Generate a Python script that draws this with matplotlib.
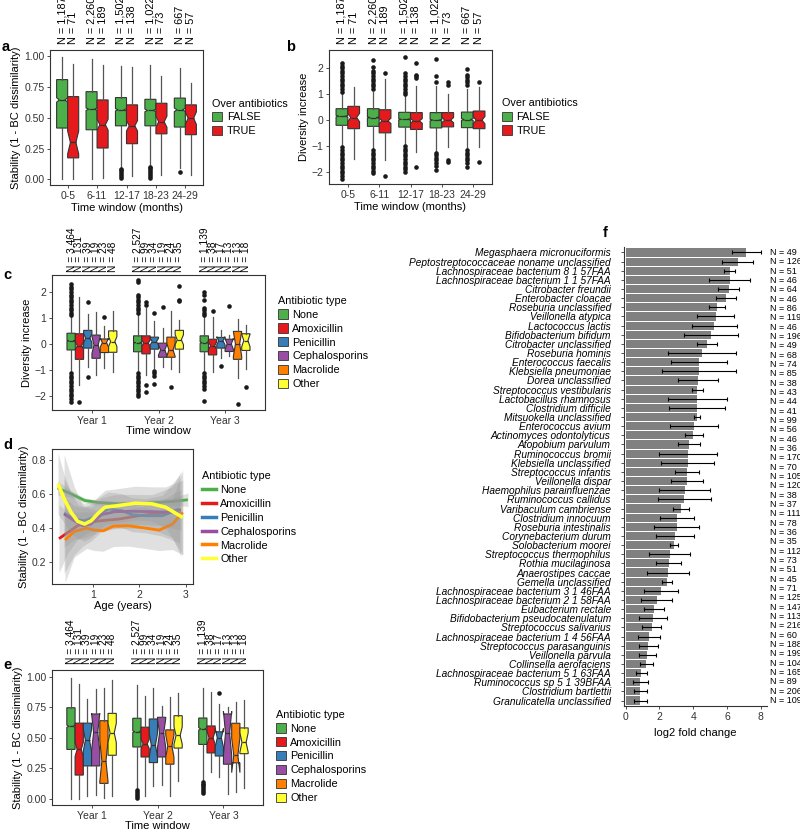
import numpy as np
import matplotlib
matplotlib.use("Agg")
import matplotlib.pyplot as plt
import matplotlib.transforms as mtrans
from matplotlib.patches import Patch
from matplotlib.lines import Line2D

plt.rcParams['font.family'] = ['Liberation Sans', 'DejaVu Sans']
plt.rcParams['font.size'] = 7

GREY = '#333333'
abx_types = ['None', 'Amoxicillin', 'Penicillin', 'Cephalosporins', 'Macrolide', 'Other']
abx_colors = ['#4DAF4A', '#E41A1C', '#377EB8', '#984EA3', '#FF7F00', '#FFFF33']
tf_labels = ['FALSE', 'TRUE']

# ---- panels a / b : over antibiotics per time window ----
windows = ['0-5', '6-11', '12-17', '18-23', '24-29']
n_false = [1187, 2260, 1502, 1022, 667]
n_true = [71, 189, 138, 73, 57]

# (whislo, q1, med, q3, whishi)
a_false = [(0.00, 0.417, 0.645, 0.810, 0.990),
           (0.00, 0.403, 0.570, 0.712, 0.973),
           (0.105, 0.435, 0.565, 0.664, 0.922),
           (0.115, 0.435, 0.560, 0.650, 0.927),
           (0.094, 0.425, 0.565, 0.660, 0.900)]
a_true = [(0.00, 0.175, 0.300, 0.672, 0.940),
          (0.008, 0.255, 0.444, 0.645, 0.927),
          (0.027, 0.290, 0.435, 0.605, 0.914),
          (0.040, 0.370, 0.468, 0.618, 0.840),
          (0.040, 0.363, 0.497, 0.605, 0.785)]
a_false_fliers = [[], [], [0.013, 0.03, 0.045, 0.06, 0.075, 0.086],
                  [0.013, 0.03, 0.045, 0.06, 0.075, 0.09, 0.105], [0.062]]
a_true_fliers = [[], [], [], [], []]

b_false = [(-1.00, -0.20, 0.15, 0.44, 1.05),
           (-1.10, -0.24, 0.10, 0.44, 1.10),
           (-0.95, -0.27, 0.03, 0.30, 0.95),
           (-1.20, -0.30, 0.00, 0.29, 1.30),
           (-1.10, -0.29, 0.02, 0.31, 1.20)]
b_true = [(-1.51, -0.33, 0.10, 0.53, 1.27),
          (-1.54, -0.49, -0.03, 0.40, 1.60),
          (-1.22, -0.36, -0.03, 0.29, 1.30),
          (-1.05, -0.26, 0.00, 0.29, 1.00),
          (-1.05, -0.33, 0.00, 0.35, 1.27)]
b_false_fliers = [
    [1.1, 1.2, 1.3, 1.4, 1.5, 1.6, 1.7, 1.8, 1.9, 2.0, 2.1, 2.2,
     -1.05, -1.15, -1.25, -1.35, -1.45, -1.55, -1.65, -1.75, -1.85, -1.95, -2.05, -2.15, -2.25],
    [1.2, 1.3, 1.4, 1.5, 1.6, 1.7, 1.8, 1.9, 2.05, 2.3,
     -1.15, -1.25, -1.35, -1.45, -1.55, -1.65, -1.75, -1.85, -1.95, -2.05],
    [1.0, 1.1, 1.2, 1.3, 1.4, 1.5, 1.6, 1.7, 1.8, 2.42,
     -1.0, -1.1, -1.2, -1.3, -1.4, -1.5, -1.6, -1.7, -1.8, -1.9, -2.0],
    [1.45, 1.68, 2.35, -1.25, -1.35, -1.45, -1.55, -1.65, -1.75, -1.93],
    [1.35, 1.45, 1.55, 1.65, 1.75, 1.95, -1.15, -1.25, -1.35, -1.45, -1.55, -1.65, -1.82]]
b_true_fliers = [[], [1.82, -2.17], [2.2, 1.75, 1.68, 1.62, -1.8],
                 [1.45, 1.35, -1.55, -1.62], [1.45, -1.63]]

# ---- panels c / e : antibiotic type per year ----
years = ['Year 1', 'Year 2', 'Year 3']
n_type = [[3464, 131, 39, 19, 23, 48],
          [2527, 99, 34, 19, 24, 35],
          [1139, 38, 17, 13, 13, 18]]

c_stats = [
    [(-1.05, -0.22, 0.13, 0.42, 1.05), (-1.56, -0.58, -0.06, 0.40, 1.81),
     (-0.88, -0.15, 0.23, 0.53, 1.17), (-1.18, -0.54, -0.03, 0.35, 1.22),
     (-0.92, -0.32, 0.06, 0.20, 0.71), (-1.05, -0.31, 0.10, 0.51, 1.26)],
    [(-1.05, -0.29, 0.06, 0.32, 1.15), (-1.18, -0.37, 0.04, 0.32, 1.40),
     (-0.92, -0.19, 0.10, 0.27, 0.87), (-0.86, -0.50, -0.22, 0.04, 0.62),
     (-0.96, -0.50, -0.22, 0.27, 1.26), (-1.05, -0.19, 0.17, 0.53, 0.91)],
    [(-1.05, -0.29, 0.06, 0.32, 1.05), (-1.05, -0.41, -0.06, 0.19, 1.06),
     (-0.54, -0.15, 0.13, 0.26, 0.55), (-0.47, -0.28, 0.01, 0.19, 0.36),
     (-1.31, -0.58, 0.01, 0.49, 0.96), (-0.96, -0.24, 0.14, 0.40, 0.74)]]
c_fliers = [
    [[1.1, 1.2, 1.3, 1.4, 1.5, 1.6, 1.7, 1.8, 1.9, 2.0, 2.1, 2.2, 2.3,
      -1.1, -1.2, -1.3, -1.4, -1.5, -1.6, -1.7, -1.8, -1.9, -2.0, -2.1, -2.2],
     [-2.2], [1.62, -1.24], [], [1.06], []],
    [[1.2, 1.3, 1.4, 1.5, 1.6, 1.7, 1.8, 1.9, 2.38, 2.47,
      -1.1, -1.2, -1.3, -1.4, -1.5, -1.6, -1.7, -1.8, -1.9, -2.0],
     [1.6, 1.5, -1.56, -1.82], [1.19, -1.02, -1.12, -1.22, -1.53], [1.42], [-1.65],
     [2.22, 1.7, 1.64]],
    [[1.1, 1.2, 1.3, 1.4, 1.68, 1.9, 1.99,
      -1.1, -1.2, -1.3, -1.4, -1.5, -1.6, -1.7, -2.17],
     [1.26], [-0.82], [1.47], [-2.29], [-1.65]]]

e_stats = [
    [(0.00, 0.405, 0.595, 0.746, 0.990), (0.00, 0.195, 0.405, 0.620, 0.940),
     (0.02, 0.270, 0.480, 0.620, 0.820), (0.03, 0.270, 0.545, 0.695, 0.900),
     (0.005, 0.127, 0.310, 0.640, 0.905), (0.02, 0.357, 0.540, 0.700, 0.970)],
    [(0.075, 0.425, 0.550, 0.660, 0.930), (0.02, 0.343, 0.450, 0.587, 0.840),
     (0.108, 0.297, 0.440, 0.654, 0.910), (0.114, 0.343, 0.538, 0.668, 0.757),
     (0.02, 0.284, 0.432, 0.565, 0.830), (0.146, 0.416, 0.519, 0.681, 0.865)],
    [(0.15, 0.446, 0.573, 0.662, 0.905), (0.222, 0.376, 0.500, 0.597, 0.878),
     (0.176, 0.351, 0.500, 0.549, 0.780), (0.04, 0.284, 0.538, 0.695, 0.749),
     (0.06, 0.295, 0.357, 0.619, 0.797), (0.086, 0.370, 0.462, 0.581, 0.808)]]
e_fliers = [
    [[], [], [], [], [], []],
    [[0.01, 0.025, 0.04, 0.055, 0.07], [], [], [], [], []],
    [[0.05, 0.065, 0.08, 0.095, 0.11, 0.125, 0.14], [], [0.87], [], [], []]]

# ---- panel d : smoothed stability vs age ----
d_x = [[0.24, 0.53, 0.82, 1.11, 1.55, 2.13, 2.71, 3.04],
       [0.27, 0.46, 0.67, 0.89, 1.18, 1.55, 1.98, 2.42, 2.89],
       [0.38, 0.60, 0.82, 1.04, 1.33, 1.62, 1.84, 2.13, 2.49, 2.86],
       [0.38, 0.60, 0.78, 0.96, 1.18, 1.47, 1.84, 2.27, 2.71, 2.89],
       [0.40, 0.60, 0.86, 1.04, 1.22, 1.44, 1.76, 2.13, 2.42, 2.71, 2.93],
       [0.25, 0.38, 0.53, 0.67, 0.82, 0.96, 1.11, 1.26, 1.55, 1.91, 2.27, 2.56, 2.93]]
d_y = [[0.635, 0.601, 0.562, 0.550, 0.542, 0.546, 0.556, 0.566],
       [0.337, 0.373, 0.413, 0.433, 0.443, 0.452, 0.472, 0.486, 0.506],
       [0.486, 0.452, 0.442, 0.466, 0.512, 0.502, 0.478, 0.472, 0.472, 0.512],
       [0.482, 0.442, 0.413, 0.423, 0.478, 0.496, 0.498, 0.496, 0.492, 0.482],
       [0.329, 0.379, 0.399, 0.387, 0.383, 0.411, 0.413, 0.399, 0.387, 0.423, 0.492],
       [0.661, 0.572, 0.492, 0.439, 0.423, 0.442, 0.486, 0.522, 0.532, 0.546, 0.542, 0.522, 0.462]]
d_se = [[0.04, 0.02, 0.015, 0.015, 0.015, 0.015, 0.02, 0.04],
        [0.20, 0.12, 0.08, 0.06, 0.05, 0.05, 0.05, 0.07, 0.12],
        [0.20, 0.12, 0.10, 0.10, 0.10, 0.10, 0.10, 0.10, 0.12, 0.20],
        [0.35, 0.20, 0.12, 0.10, 0.10, 0.10, 0.10, 0.10, 0.15, 0.25],
        [0.25, 0.15, 0.12, 0.12, 0.12, 0.12, 0.12, 0.12, 0.12, 0.15, 0.25],
        [0.18, 0.14, 0.12, 0.10, 0.10, 0.10, 0.10, 0.10, 0.10, 0.10, 0.10, 0.12, 0.22]]

# ---- panel f : log2 fold change per species ----
species = ['Megasphaera micronuciformis', 'Peptostreptococcaceae noname unclassified',
           'Lachnospiraceae bacterium 8 1 57FAA', 'Lachnospiraceae bacterium 1 1 57FAA',
           'Citrobacter freundii', 'Enterobacter cloacae', 'Roseburia unclassified',
           'Veillonella atypica', 'Lactococcus lactis', 'Bifidobacterium bifidum',
           'Citrobacter unclassified', 'Roseburia hominis', 'Enterococcus faecalis',
           'Klebsiella pneumoniae', 'Dorea unclassified', 'Streptococcus vestibularis',
           'Lactobacillus rhamnosus', 'Clostridium difficile', 'Mitsuokella unclassified',
           'Enterococcus avium', 'Actinomyces odontolyticus', 'Atopobium parvulum',
           'Ruminococcus bromii', 'Klebsiella unclassified', 'Streptococcus infantis',
           'Veillonella dispar', 'Haemophilus parainfluenzae', 'Ruminococcus callidus',
           'Varibaculum cambriense', 'Clostridium innocuum', 'Roseburia intestinalis',
           'Corynebacterium durum', 'Solobacterium moorei', 'Streptococcus thermophilus',
           'Rothia mucilaginosa', 'Anaerostipes caccae', 'Gemella unclassified',
           'Lachnospiraceae bacterium 3 1 46FAA', 'Lachnospiraceae bacterium 2 1 58FAA',
           'Eubacterium rectale', 'Bifidobacterium pseudocatenulatum', 'Streptococcus salivarius',
           'Lachnospiraceae bacterium 1 4 56FAA', 'Streptococcus parasanguinis',
           'Veillonella parvula', 'Collinsella aerofaciens', 'Lachnospiraceae bacterium 5 1 63FAA',
           'Ruminococcus sp 5 1 39BFAA', 'Clostridium bartlettii', 'Granulicatella unclassified']
fold = [7.13, 6.64, 6.15, 6.15, 6.09, 5.95, 5.42, 5.32, 5.24, 5.04,
        4.82, 4.51, 4.35, 4.35, 4.29, 4.25, 4.25, 4.25, 4.21, 4.05,
        4.01, 3.75, 3.70, 3.70, 3.64, 3.62, 3.50, 3.46, 3.26, 3.04,
        3.04, 2.92, 2.85, 2.61, 2.55, 2.49, 2.43, 2.09, 1.84, 1.68,
        1.60, 1.54, 1.40, 1.34, 1.28, 1.21, 0.93, 0.87, 0.85, 0.85]
fold_lo = [6.32, 5.69, 5.83, 4.94, 5.49, 5.36, 4.94, 4.23, 3.95, 3.44,
           4.23, 2.49, 2.71, 2.15, 3.12, 3.95, 2.49, 2.55, 4.07, 2.65,
           3.52, 3.08, 1.98, 2.11, 2.92, 2.69, 2.00, 1.90, 2.79, 2.04,
           1.70, 1.82, 2.61, 1.40, 1.82, 1.25, 2.13, 1.11, 0.93, 1.11,
           0.79, 0.99, 0.73, 0.81, 0.81, 0.83, 0.61, 0.45, 0.47, 0.49]
fold_hi = [8.00, 7.57, 6.48, 7.37, 6.70, 6.52, 5.91, 6.40, 6.58, 6.68,
           5.40, 6.56, 6.03, 6.56, 5.49, 4.60, 6.03, 5.91, 4.43, 5.47,
           4.57, 4.43, 5.40, 5.24, 4.37, 4.57, 5.02, 5.04, 3.75, 4.07,
           4.37, 4.05, 3.08, 3.81, 3.30, 3.77, 2.73, 3.08, 2.73, 2.25,
           2.45, 2.11, 2.06, 1.90, 1.78, 1.64, 1.25, 1.32, 1.25, 1.25]
f_n = [49, 126, 51, 46, 64, 46, 86, 119, 46, 196, 49, 68, 74, 85, 38, 43, 44, 41,
       99, 56, 46, 36, 170, 70, 105, 120, 38, 37, 111, 78, 36, 35, 112, 73, 51, 45,
       71, 125, 147, 113, 216, 60, 188, 199, 104, 165, 89, 206, 109]

LAB = 8
TICK = 7.5


def make_stats(rows, ns, fliers):
    out = []
    for (lo, q1, med, q3, hi), n, fl in zip(rows, ns, fliers):
        ci = 1.58 * (q3 - q1) / np.sqrt(n)
        out.append(dict(whislo=lo, q1=q1, med=med, q3=q3, whishi=hi,
                        cilo=med - ci, cihi=med + ci, fliers=fl))
    return out


def draw_boxes(ax, stats, positions, width, colors):
    bp = ax.bxp(stats, positions=positions, widths=width, patch_artist=True,
                shownotches=True, showcaps=False, manage_ticks=False,
                boxprops=dict(edgecolor=GREY, linewidth=0.8),
                whiskerprops=dict(color='#555555', linewidth=0.9),
                medianprops=dict(color=GREY, linewidth=0.9),
                flierprops=dict(marker='o', markersize=3.3, markerfacecolor='#1a1a1a',
                                markeredgecolor='none'))
    for patch, c in zip(bp['boxes'], colors):
        patch.set_facecolor(c)


def n_labels(ax, positions, ns, pad, size):
    tr = mtrans.offset_copy(mtrans.blended_transform_factory(ax.transData, ax.transAxes),
                            fig=ax.figure, y=pad, units='points')
    for p, n in zip(positions, ns):
        ax.text(p, 1.0, f'N = {n:,}', transform=tr, rotation=90, ha='center',
                va='bottom', fontsize=size)


def frame(ax):
    for s in ax.spines.values():
        s.set_color(GREY)
        s.set_linewidth(0.8)
    ax.tick_params(length=2.5, width=0.6, color=GREY, labelsize=TICK, pad=1.5,
                   labelcolor='#333333')


def legend(ax, handles, title, x, y, hl=0.95):
    ax.legend(handles=handles, title=title, loc='center left', bbox_to_anchor=(x, y),
              frameon=False, fontsize=7.8, title_fontsize=7.8, handlelength=hl,
              handleheight=0.95, labelspacing=0.32, handletextpad=0.4,
              borderaxespad=0, borderpad=0, alignment='left')


fig = plt.figure(figsize=(8, 8.31), dpi=100)
W, H = 800, 831


def add_axes(l, t, r, b):
    return fig.add_axes([l / W, 1 - b / H, (r - l) / W, (b - t) / H])


tf_handles = [Patch(facecolor=abx_colors[i], edgecolor=GREY, linewidth=0.6, label=tf_labels[i])
              for i in range(2)]
abx_handles = [Patch(facecolor=c, edgecolor=GREY, linewidth=0.6, label=t)
               for t, c in zip(abx_types, abx_colors)]
line_handles = [Line2D([], [], color=c, lw=2.5, label=t) for t, c in zip(abx_types, abx_colors)]

# panels a and b
wpos = np.arange(1, len(windows) + 1)
for key, box, ylab in [('a', (50, 50, 203, 185), 'Stability (1 - BC dissimilarity)'),
                       ('b', (329, 50, 492, 184), 'Diversity increase')]:
    ax = add_axes(*box)
    if key == 'a':
        sf = make_stats(a_false, n_false, a_false_fliers)
        st = make_stats(a_true, n_true, a_true_fliers)
    else:
        sf = make_stats(b_false, n_false, b_false_fliers)
        st = make_stats(b_true, n_true, b_true_fliers)
    draw_boxes(ax, sf, wpos - 0.1875, 0.375, [abx_colors[0]] * 5)
    draw_boxes(ax, st, wpos + 0.1875, 0.375, [abx_colors[1]] * 5)
    n_labels(ax, np.concatenate([wpos - 0.1875, wpos + 0.1875]), n_false + n_true, 4.5, 7.8)
    ax.set_xticks(wpos, windows)
    ax.set_xlim(0.4, 5.6)
    if key == 'a':
        ax.set_ylim(-0.045, 1.05)
        ax.set_yticks([0, 0.25, 0.5, 0.75, 1.0], ['0.00', '0.25', '0.50', '0.75', '1.00'])
    else:
        ax.set_ylim(-2.46, 2.7)
        ax.set_yticks([-2, -1, 0, 1, 2])
    ax.set_xlabel('Time window (months)', fontsize=LAB, labelpad=1.5)
    ax.set_ylabel(ylab, fontsize=LAB, labelpad=2)
    frame(ax)
    legend(ax, tf_handles, 'Over antibiotics', 1.06, 0.5)

# panels c and e
ypos = np.arange(1, 4)
offsets = [-0.3125, -0.1875, -0.0625, 0.0625, 0.1875, 0.3125]
for key, box, stats, fliers in [('c', (52, 275, 265, 410), c_stats, c_fliers),
                                ('e', (52, 670, 263, 805), e_stats, e_fliers)]:
    ax = add_axes(*box)
    for yi in range(3):
        pos = [ypos[yi] + o for o in offsets]
        draw_boxes(ax, make_stats(stats[yi], n_type[yi], fliers[yi]), pos, 0.125, abx_colors)
        n_labels(ax, pos, n_type[yi], 2.5 if key == 'c' else 4, 7.3)
    ax.set_xticks(ypos, years)
    ax.set_xlim(0.4, 3.6)
    if key == 'c':
        ax.set_ylim(-2.52, 2.65)
        ax.set_yticks([-2, -1, 0, 1, 2])
        ax.set_ylabel('Diversity increase', fontsize=LAB, labelpad=2)
        legend(ax, abx_handles, 'Antibiotic type', 1.06, 0.5)
    else:
        ax.set_ylim(-0.05, 1.055)
        ax.set_yticks([0, 0.25, 0.5, 0.75, 1.0], ['0.00', '0.25', '0.50', '0.75', '1.00'])
        ax.set_ylabel('Stability (1 - BC dissimilarity)', fontsize=LAB, labelpad=2)
        legend(ax, abx_handles, 'Antibiotic type', 1.06, 0.36)
    ax.set_xlabel('Time window', fontsize=LAB, labelpad=0)
    frame(ax)

# panel d
ax = add_axes(52, 449, 193, 584)
for i, c in enumerate(abx_colors):
    x = np.array(d_x[i])
    y = np.array(d_y[i])
    se = np.array(d_se[i])
    ax.fill_between(x, y - se, y + se, color='#999999', alpha=0.3, lw=0, zorder=2 + i)
    ax.plot(x, y, color=c, lw=2.6 if i == 5 else 2.0, zorder=2 + i,
            solid_capstyle='butt')
ax.set_xlim(0.12, 3.15)
ax.set_ylim(0.07, 0.865)
ax.set_xticks([1, 2, 3])
ax.set_yticks([0.2, 0.4, 0.6, 0.8])
ax.set_xlabel('Age (years)', fontsize=LAB, labelpad=1)
ax.set_ylabel('Stability (1 - BC dissimilarity)', fontsize=LAB, labelpad=2)
frame(ax)
legend(ax, line_handles, 'Antibiotic type', 1.064, 0.49, hl=1.3)

# panel f
ax = add_axes(624, 247, 767, 706)
yy = np.arange(len(species))
fold_a = np.array(fold)
ax.barh(yy, fold_a, height=0.88, color='#808080', zorder=2)
ax.errorbar(fold_a, yy, xerr=[fold_a - np.array(fold_lo), np.array(fold_hi) - fold_a],
            fmt='none', ecolor='black', elinewidth=0.8, capsize=1.2, capthick=0.8, zorder=3)
ax.set_yticks(yy, species, fontstyle='italic', fontsize=7.3)
ax.set_ylim(len(species) - 0.4, -0.6)
ax.set_xlim(-0.1, 8.37)
ax.set_xticks([0, 2, 4, 6, 8])
ax.set_xlabel('log2 fold change', fontsize=LAB, labelpad=5)
for s in ['top', 'right']:
    ax.spines[s].set_visible(False)
frame(ax)
ax.tick_params(axis='y', pad=7, labelcolor='black', labelsize=7.3)
tr = mtrans.blended_transform_factory(ax.transAxes, ax.transData)
for p, n in zip(np.linspace(0, len(species) - 1, len(f_n)), f_n):
    ax.text(1.02, p, f'N = {n}', transform=tr, ha='left', va='center', fontsize=6.5)

# panel letters
for letter, x, y in [('a', 2, 47), ('b', 286, 47), ('c', 3, 275), ('d', 3, 445),
                     ('e', 3, 665), ('f', 603, 233)]:
    fig.text(x / W, 1 - y / H, letter, fontsize=10.5, fontweight='bold', va='center')

fig.savefig('out.png', dpi=100)
